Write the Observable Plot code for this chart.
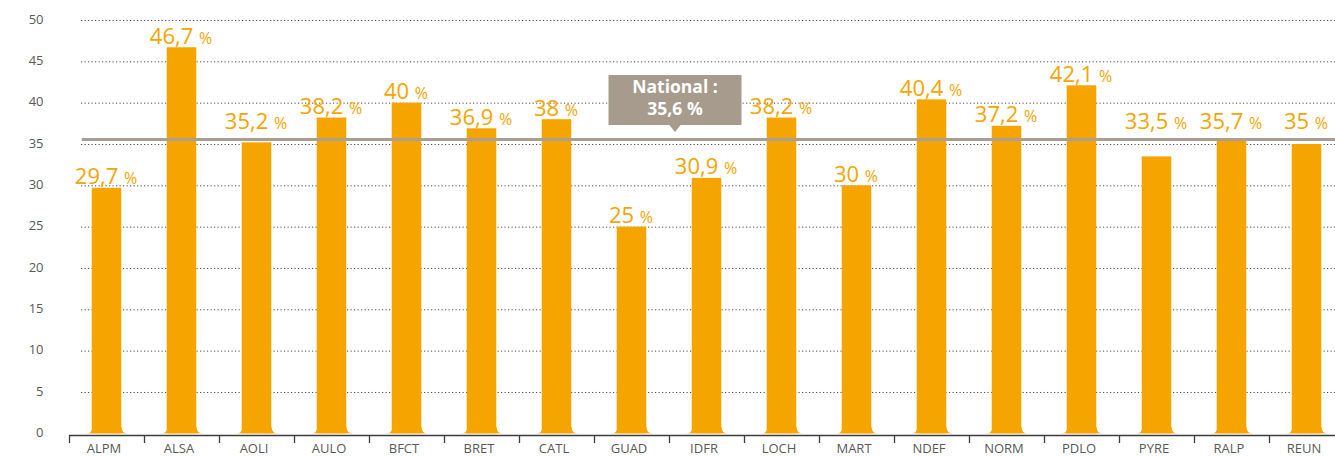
<!DOCTYPE html>
<html><head><meta charset="utf-8">
<script src="https://cdn.jsdelivr.net/npm/d3@7"></script>
<script src="https://cdn.jsdelivr.net/npm/@observablehq/plot@0.6"></script>
<style>body{margin:0;background:#fff}svg{display:block}</style>
</head><body><div id="chart"></div>
<script>
const regions = ["ALPM","ALSA","AOLI","AULO","BFCT","BRET","CATL","GUAD","IDFR","LOCH","MART","NDEF","NORM","PDLO","PYRE","RALP","REUN"];
const rates = [29.7,46.7,35.2,38.2,40,36.9,38,25,30.9,38.2,30,40.4,37.2,42.1,33.5,35.7,35];
const nationalRate = 35.6;
const nationalLabel = ["National :", "35,6 %"];
const yTicks = [0,5,10,15,20,25,30,35,40,45,50];

const data = regions.map((region, i) => ({region, i, rate: rates[i]}));
const fmt = v => String(v).replace(".", ",");
const FONT = "Open Sans, Noto Sans, sans-serif";
const ORANGE = "#F6A400";
const HALF = 0.197;           // half bar width, in band units
const FLX = 0.08, FLY = 0.75; // foot flare size in data units
// labels that would collide with the national line are lifted above it
const labelPos = v => (v > 33 && v < 36.3) ? 36.4 : v;
const bounds = d3.range(-0.5, regions.length, 1);

const plot = Plot.plot({
  width: 1335,
  height: 456,
  marginLeft: 81,
  marginRight: 0,
  marginTop: 20,
  marginBottom: 22.7,
  style: {fontFamily: FONT, background: "#fff"},
  x: {type: "linear", domain: [-0.5, regions.length - 0.5], range: [69, 69 + 75 * regions.length], axis: null},
  y: {domain: [0, 50], axis: null},
  marks: [
    Plot.ruleY(yTicks.filter(d => d > 0), {stroke: "#4a4a4a", strokeWidth: 1, strokeDasharray: "1.2,2.3"}),
    // flared feet of the bars
    Plot.rect(data, {x1: d => d.i - HALF - FLX, x2: d => d.i + HALF + FLX, y1: 0, y2: FLY, fill: ORANGE}),
    Plot.dot(data, {x: d => d.i - HALF - FLX, y: FLY, r: 6.2, fill: "#fff"}),
    Plot.dot(data, {x: d => d.i + HALF + FLX, y: FLY, r: 6.2, fill: "#fff"}),
    Plot.rectY(data, {x1: d => d.i - HALF, x2: d => d.i + HALF, y: "rate", fill: ORANGE}),
    Plot.ruleY([nationalRate], {x1: -0.33, x2: regions.length, stroke: "#A89E94", strokeWidth: 3}),
    Plot.text(data, {x: "i", y: d => labelPos(d.rate), text: d => fmt(d.rate) + " %", dy: -4, dx: -1, lineAnchor: "bottom",
      fill: ORANGE, fontSize: 22, fontFamily: FONT}),
    // axes
    Plot.ruleY([0], {x1: -0.5, x2: regions.length, stroke: "#3c3c3c", strokeWidth: 1.5, dy: 1.7}),
    Plot.axisX(bounds, {tickSize: 8, tickFormat: () => "", label: null, stroke: "#3c3c3c", strokeWidth: 1.3, dy: 1.7}),
    Plot.axisX(data.map(d => d.i), {tickSize: 0, tickPadding: 10, label: null, tickFormat: i => regions[i], fontSize: 13, fill: "#595959", fontFamily: FONT, dx: -3}),
    Plot.axisY(yTicks, {tickSize: 0, tickPadding: 38, label: null, fontSize: 13, fill: "#595959", fontFamily: FONT, dy: -1})
  ]
});

// render the "%" of value labels smaller
d3.select(plot).selectAll("text").each(function() {
  const t = this.textContent;
  const m = /^([\d,]+) %$/.exec(t);
  if (!m) return;
  this.textContent = m[1] + "\u00a0";
  d3.select(this).append("tspan").attr("font-size", 16).text("%");
});

// callout for the national value
const sx = plot.scale("x"), sy = plot.scale("y");
const cx = sx.apply(7.58), ly = sy.apply(nationalRate);
const g = d3.select(plot).append("g");
const boxW = 133, boxH = 50, boxBottom = ly - 14;
g.append("rect").attr("x", cx - boxW / 2).attr("y", boxBottom - boxH).attr("width", boxW).attr("height", boxH).attr("fill", "#A69B8D");
g.append("path").attr("d", `M${cx - 6},${boxBottom - 0.5}L${cx + 6},${boxBottom - 0.5}L${cx},${boxBottom + 7}Z`).attr("fill", "#A69B8D");
nationalLabel.forEach((s, k) => {
  g.append("text").attr("x", cx).attr("y", boxBottom - boxH + 18 + 22 * k).attr("text-anchor", "middle")
    .attr("fill", "#fff").attr("font-weight", "bold").attr("font-size", 17.5).attr("font-family", FONT).text(s);
});

document.getElementById("chart").appendChild(plot);
</script>
</body></html>
